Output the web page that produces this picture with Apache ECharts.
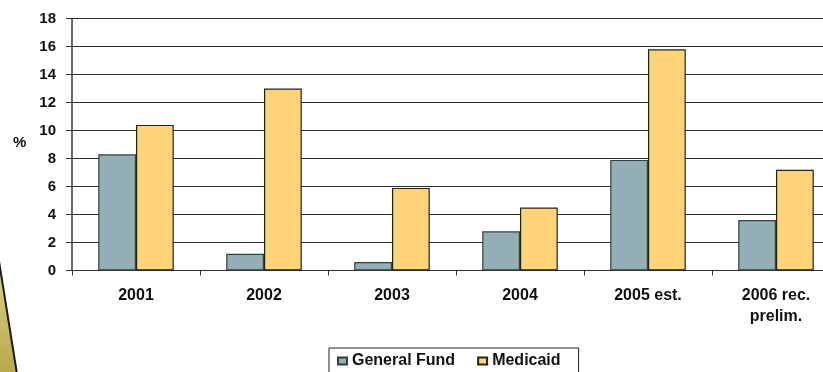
<!DOCTYPE html>
<html>
<head>
<meta charset="utf-8">
<style>
  html, body { margin: 0; padding: 0; background: #fff; overflow: hidden; }
  #chart { width: 840px; height: 372px; }
</style>
<script src="https://cdn.jsdelivr.net/npm/echarts@6/dist/echarts.min.js"></script>
</head>
<body>
<div id="chart"></div>
<script>
// Annual growth rates, in percent
const categories = ['2001', '2002', '2003', '2004', '2005 est.', '2006 rec.\nprelim.'];
const generalFund = [8.3, 1.2, 0.6, 2.8, 7.9, 3.6];
const medicaid = [10.4, 13.0, 5.9, 4.5, 15.8, 7.2];
const yTicks = { min: 0, max: 18, interval: 2 };

const chart = echarts.init(document.getElementById('chart'), null, { renderer: 'canvas' });
const font = 'Arial, "Liberation Sans", sans-serif';

chart.setOption({
  animation: false,
  textStyle: { fontFamily: font },
  // the canvas is wider than the page, so the last category runs past the right edge
  grid: { left: 72, top: 18.5, right: 0, bottom: 101.5, containLabel: false },
  graphic: [
    {
      type: 'polygon',
      shape: { points: [[-2, 255], [17, 374], [-2, 374]] },
      style: {
        fill: new echarts.graphic.LinearGradient(0, 0, 0, 1, [
          { offset: 0, color: '#ddd28c' },
          { offset: 1, color: '#b8a84b' }
        ]),
        stroke: '#1a1a1a',
        lineWidth: 2
      },
      z: 0
    },
    {
      type: 'text',
      left: 13,
      top: 135,
      style: { text: '%', font: 'bold 15px ' + font, fill: '#111' }
    }
  ],
  legend: {
    left: 329,
    top: 348,
    itemWidth: 9,
    itemHeight: 7,
    itemGap: 22,
    padding: [5, 18, 6, 8],
    borderColor: '#222',
    borderWidth: 1,
    icon: 'rect',
    textStyle: { fontSize: 16, fontWeight: 'bold', color: '#111', fontFamily: font },
    data: ['General Fund', 'Medicaid']
  },
  xAxis: {
    type: 'category',
    data: categories,
    axisLine: { lineStyle: { color: '#333', width: 1 } },
    axisTick: { show: true, length: 5, lineStyle: { color: '#333' } },
    axisLabel: {
      margin: 15,
      fontSize: 16,
      fontWeight: 'bold',
      color: '#111',
      lineHeight: 21,
      fontFamily: font
    }
  },
  yAxis: {
    type: 'value',
    min: yTicks.min,
    max: yTicks.max,
    interval: yTicks.interval,
    axisLine: { show: true, lineStyle: { color: '#3b3a2e', width: 1.5 } },
    axisTick: { show: true, length: 6, lineStyle: { color: '#333' } },
    axisLabel: {
      margin: 16,
      fontSize: 15,
      fontWeight: 'bold',
      color: '#111',
      fontFamily: font
    },
    splitLine: { lineStyle: { color: '#2a2a2a', width: 1 } }
  },
  series: [
    {
      name: 'General Fund',
      type: 'bar',
      data: generalFund,
      barGap: '0%',
      barCategoryGap: '41%',
      itemStyle: { color: '#94aeb5', borderColor: '#33413f', borderWidth: 1.2 }
    },
    {
      name: 'Medicaid',
      type: 'bar',
      data: medicaid,
      itemStyle: { color: '#ffd478', borderColor: '#222', borderWidth: 1.2 }
    }
  ]
});
</script>
</body>
</html>
